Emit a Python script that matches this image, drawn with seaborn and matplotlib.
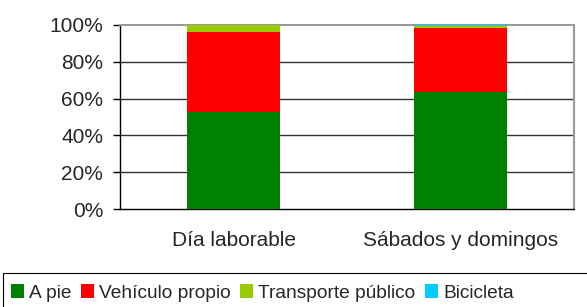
import numpy as np
import pandas as pd
import matplotlib
matplotlib.use("Agg")
import matplotlib.pyplot as plt
from matplotlib.patches import Patch, Rectangle
import seaborn as sns

# ── Data ───────────────────────────────────────────────────────────────────────
CATEGORIES = ["Día laborable", "Sábados y domingos"]
MODES = ["A pie", "Vehículo propio", "Transporte público", "Bicicleta"]
A_PIE = [52.9, 63.8]
VEHICULO = [43.5, 34.7]
TRANSPORTE = [3.5, 1.2]
BICICLETA = [0.1, 0.3]
COLORS = ["#008000", "#FF0000", "#99CC00", "#00CCFF"]

sns.set_style("white")
plt.rcParams["font.family"] = ["Liberation Sans", "DejaVu Sans"]

df = pd.DataFrame({"cat": CATEGORIES, MODES[0]: A_PIE, MODES[1]: VEHICULO,
                   MODES[2]: TRANSPORTE, MODES[3]: BICICLETA})
cum = df[MODES].cumsum(axis=1)

fig = plt.figure(figsize=(5.87, 3.07), dpi=100)
ax = fig.add_axes([0.2044, 0.319, 0.7736, 0.5996])

# stacked bars: draw cumulative totals from the top segment down
for mode, color in reversed(list(zip(MODES, COLORS))):
    sns.barplot(x=df["cat"], y=cum[mode], color=color, width=0.41,
                saturation=1, ax=ax, zorder=3, linewidth=0)

ax.set_ylim(0, 100)
ax.set_xlim(-0.5, 1.5)
ax.set_yticks([0, 20, 40, 60, 80, 100])
ax.set_yticklabels([f"{v}%" for v in range(0, 101, 20)], fontsize=15)
ax.set_xticks([0, 1])
ax.set_xticklabels(CATEGORIES, fontsize=15)
ax.set_xticks([-0.5, 0.5, 1.5], minor=True)
ax.tick_params(axis="x", which="major", length=0, pad=16)
ax.tick_params(axis="x", which="minor", length=5, width=1, color="black", direction="out")
ax.tick_params(axis="y", length=5, width=1, color="black", direction="out", left=True, pad=7)
ax.set_xlabel("")
ax.set_ylabel("")

for y in [20, 40, 60, 80]:
    ax.axhline(y, color="#333333", lw=1, zorder=1)

ax.spines["left"].set_color("black")
ax.spines["bottom"].set_color("black")
ax.spines["top"].set_color("#999999")
ax.spines["right"].set_color("#999999")
for s in ["left", "bottom"]:
    ax.spines[s].set_linewidth(1)
for s in ["top", "right"]:
    ax.spines[s].set_linewidth(1.5)

# legend box runs past the right and bottom edges of the image
fig.patches.append(Rectangle((0.005, -0.1), 1.1, 0.1 + 1 - 273 / 307,
                             transform=fig.transFigure, facecolor="none",
                             edgecolor="black", linewidth=0.8))
handles = [Patch(facecolor=c, edgecolor="none") for c in COLORS]
leg = fig.legend(handles, MODES, loc="center left", bbox_to_anchor=(0.0187, 1 - 293 / 307),
                 ncol=4, fontsize=13.8, frameon=False,
                 handlelength=0.7, handleheight=0.7, handletextpad=0.26,
                 columnspacing=0.47, borderpad=0, borderaxespad=0)

fig.savefig("out.png", dpi=100)
